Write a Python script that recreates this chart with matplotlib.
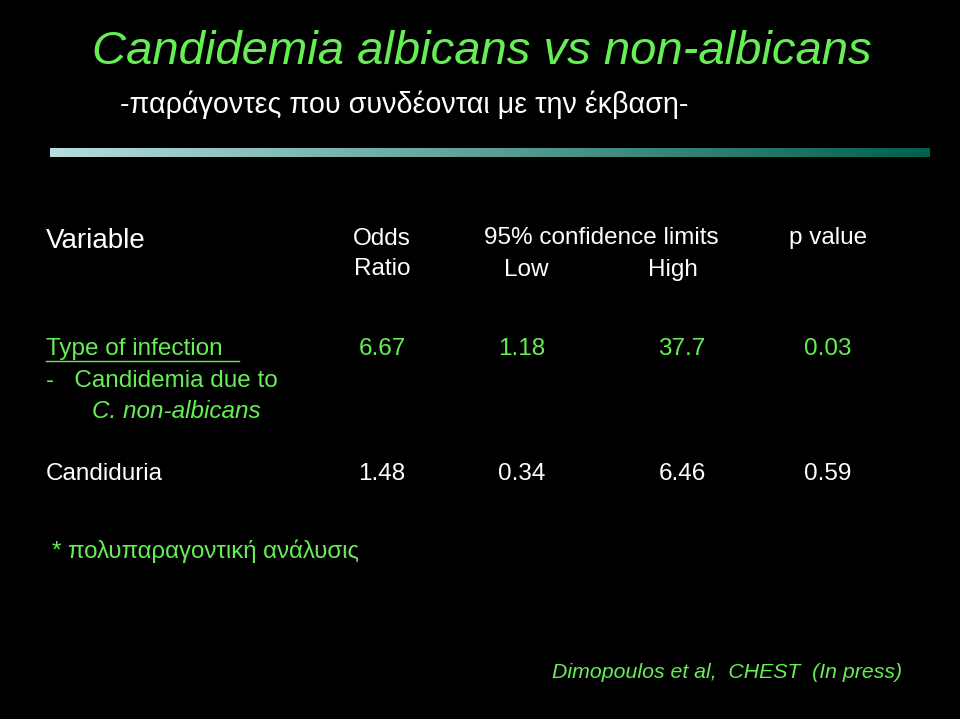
import numpy as np
import matplotlib
matplotlib.use('Agg')
import matplotlib.pyplot as plt
from matplotlib.colors import LinearSegmentedColormap

# Slide text / table content
title = 'Candidemia albicans vs non-albicans'
subtitle = '-παράγοντες που συνδέονται με την έκβαση-'
headers = ['Variable', 'Odds\nRatio', '95% confidence limits', 'p value']
sub_headers = ['Low', 'High']
row_names = ['Type of infection', 'Candiduria']
odds = ['6.67', '1.48']
low = ['1.18', '0.34']
high = ['37.7', '6.46']
pvals = ['0.03', '0.59']
footnote = '* πολυπαραγοντική ανάλυσις'
citation = 'Dimopoulos et al,  CHEST  (In press)'

plt.rcParams['font.family'] = ['Liberation Sans', 'DejaVu Sans']
W, H = 960, 719
fig = plt.figure(figsize=(9.6, 7.19), dpi=100, facecolor='black')
ax = fig.add_axes([0, 0, 1, 1])
ax.set_xlim(0, W)
ax.set_ylim(H, 0)
ax.axis('off')
ax.set_facecolor('black')

green = '#66ee55'
white = 'white'

ax.text(92, 52, title, color=green, fontsize=34, style='italic', va='center')
ax.text(120, 105, subtitle, color=white, fontsize=20.7, va='center')

# gradient rule under the title
cmap = LinearSegmentedColormap.from_list('bar', ['#b4dede', '#00604f'])
grad = np.linspace(0, 1, 256).reshape(1, -1)
ax.imshow(grad, cmap=cmap, aspect='auto', extent=(50, 930, 157, 148), zorder=1)

fs = 17.5
ax.text(46, 241, headers[0], color=white, fontsize=20, va='center')
ax.text(382, 254, headers[1], color=white, fontsize=fs, ha='center', va='center', linespacing=1.5)
ax.text(601, 238, headers[2], color=white, fontsize=fs, ha='center', va='center')
ax.text(828, 238, headers[3], color=white, fontsize=fs, ha='center', va='center')
ax.text(526, 270, sub_headers[0], color=white, fontsize=fs, ha='center', va='center')
ax.text(673, 270, sub_headers[1], color=white, fontsize=fs, ha='center', va='center')

rows_y = [349, 474]
ax.text(46, rows_y[0], row_names[0], color=green, fontsize=fs, va='center')
ax.plot([46, 239], [rows_y[0] + 12, rows_y[0] + 12], color=green, lw=1)
ax.text(46, 381, '-   Candidemia due to', color=green, fontsize=fs, va='center')
ax.text(92, 412, 'C. non-albicans', color=green, fontsize=fs, va='center', style='italic')
ax.text(46, rows_y[1], row_names[1], color=white, fontsize=fs, va='center')

cols_x = [382, 522, 682, 828]
for i, y in enumerate(rows_y):
    c = green if i == 0 else white
    for x, v in zip(cols_x, [odds[i], low[i], high[i], pvals[i]]):
        ax.text(x, y, v, color=c, fontsize=fs, ha='center', va='center')

ax.text(52, 551, footnote, color=green, fontsize=17.3, va='center')
ax.text(902, 672, citation, color=green, fontsize=15.3, ha='right', va='center', style='italic')

fig.savefig('out.png', dpi=100, facecolor='black')
